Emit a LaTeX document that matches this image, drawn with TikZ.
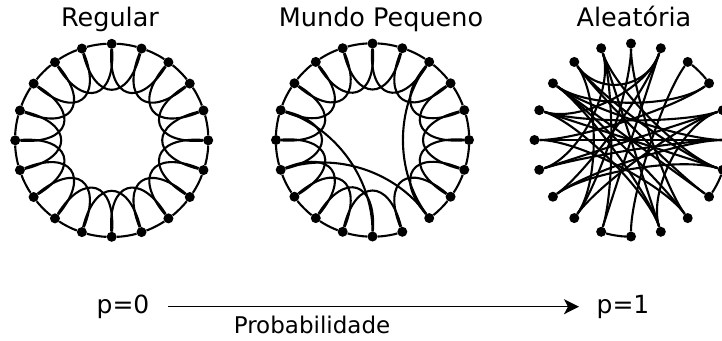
\documentclass[tikz,border=0pt]{standalone}
\usepackage{fontspec}
\setmainfont{DejaVu Sans}
\usetikzlibrary{calc,arrows.meta}
\begin{document}
\begin{tikzpicture}[x=1bp,y=-1bp,
  dot/.style={circle,fill=black,inner sep=0pt,minimum size=10bp},
  edge/.style={line width=2.1bp,black},
  title/.style={font=\fontsize{25.5bp}{30bp}\selectfont,anchor=base,inner sep=0pt},
  plbl/.style={font=\fontsize{25bp}{30bp}\selectfont,anchor=base,inner sep=0pt},
  lbl/.style={font=\fontsize{23bp}{28bp}\selectfont,anchor=base,inner sep=0pt}]
\useasboundingbox (0,0) rectangle (722,340);
% nodes of the three rings
\foreach \g/\cx/\cy in {A/111.7/140.3, B/372.5/140, C/631/140}{
  \coordinate (\g c) at (\cx,\cy);
  \foreach \k in {0,...,19}{
    \pgfmathsetmacro\ang{18*\k-90}
    \node[dot] (\g\k) at ($(\g c)+(\ang:96.5)$) {};
    \coordinate (\g q\k) at ($(\g c)+(\ang:38.6)$);
    \coordinate (\g r\k) at ($(\g c)+(\ang:54)$);
  }
}
% regular ring lattice
\foreach \k in {0,...,19}{
  \pgfmathtruncatemacro\kn{mod(\k+1,20)}
  \pgfmathtruncatemacro\kt{mod(\k+2,20)}
  \pgfmathsetmacro\ang{18*\k-90}
  \draw[edge] (A\k) .. controls ($(Ac)+(\ang+6:97.03)$) and ($(Ac)+(\ang+12:97.03)$) .. (A\kn);
  \draw[edge] (A\k) .. controls ($(A\k)+(\ang+184:55)$) and ($(A\kt)+(\ang+212:55)$) .. (A\kt);
}
% small world
\foreach \k in {0,...,7,9,10,...,19}{
  \pgfmathtruncatemacro\kn{mod(\k+1,20)}
  \pgfmathtruncatemacro\kt{mod(\k+2,20)}
  \pgfmathsetmacro\ang{18*\k-90}
  \draw[edge] (B\k) .. controls ($(Bc)+(\ang+6:97.03)$) and ($(Bc)+(\ang+12:97.03)$) .. (B\kn);
  \draw[edge] (B\k) .. controls ($(B\k)+(\ang+184:55)$) and ($(B\kt)+(\ang+212:55)$) .. (B\kt);
}
\foreach \i/\j in {16/10, 14/8, 2/8}{
  \draw[edge] (B\i) .. controls (Bq\i) and (Bq\j) .. (B\j);
}
% random
\foreach \k in {2,6,10}{
  \pgfmathtruncatemacro\kn{mod(\k+1,20)}
  \pgfmathsetmacro\ang{18*\k-90}
  \draw[edge] (C\k) .. controls ($(Cc)+(\ang+6:97.03)$) and ($(Cc)+(\ang+12:97.03)$) .. (C\kn);
}
\foreach \i/\j in {0/12, 0/8, 1/13, 1/11, 1/16, 1/18, 2/10, 3/17, 4/14, 4/9,
  5/15, 5/17, 5/13, 6/16, 6/18, 7/17, 8/15, 9/17, 9/19, 11/19, 12/4, 13/6,
  14/5, 16/9, 17/8, 18/12, 19/14, 16/4, 19/6, 15/3, 18/7}{
  \draw[edge] (C\i) .. controls (Cr\i) and (Cr\j) .. (C\j);
}
% titles
\node[title] (tA) at (110,26) {Regular};
\node[title] (tB) at (381,26) {Mundo Pequeno};
\node[title] (tC) at (634,26) {Aleatória};
% probability axis
\node[plbl] (p0) at (123,313) {p=0};
\node[plbl] (p1) at (623,313) {p=1};
\coordinate (a0) at (168,306.7);
\coordinate (a1) at (579,306.7);
\draw[line width=1.5bp,-{Stealth[length=15bp,width=15bp,inset=4bp]}] (a0) -- (a1);
\node[lbl] (prob) at (312,333) {Probabilidade};
\end{tikzpicture}
\end{document}
